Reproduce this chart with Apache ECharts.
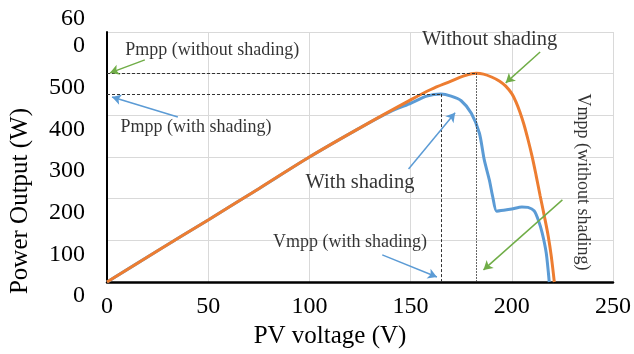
<!DOCTYPE html>
<html>
  <script src="https://cdn.jsdelivr.net/npm/echarts@6/dist/echarts.min.js"></script>
  <head>
    <meta charset="utf-8" />
    <title>PV power curve</title>
  </head>
  <body style="margin:0">
    <div id="main" style="width: 634px; height: 354px;"></div>
  </body>
  <script>
    // curve without shading
    var noShadeV = [0, 25, 50, 75, 100, 125, 150, 160, 170, 176, 182.5, 186, 190, 194, 197, 200, 202, 204, 206, 208, 210, 212, 214, 216, 218, 219.5, 221]
    var noShadeP = [0, 75, 149, 224, 300, 370, 437, 462, 482, 494, 501, 499, 492, 482, 470, 452, 433, 408, 378, 342, 302, 256, 207, 160, 110, 62, 0]
    // curve with shading
    var shadeV = [0, 25, 50, 75, 100, 125, 140, 150, 158, 165, 170, 175, 180, 184, 186.4, 188.9, 190.6, 192.5, 196, 200, 205, 208, 211, 213, 215, 217, 218.5]
    var shadeP = [0, 75, 149, 224, 300, 370, 409, 429, 446, 451, 446, 435, 405, 357, 293, 245, 204, 170, 172, 175, 180, 179, 171, 150, 118, 70, 0]
    var xTicks = [0, 50, 100, 150, 200, 250]
    var yTicks = [0, 100, 200, 300, 400, 500, 600]

    // maximum power points
    var mppNoShade = [182.5, 501]
    var mppShade = [165, 451]

    // annotation texts [text, V, P]
    var notes = [
      ['Pmpp (without shading)', 52, 557],
      ['Pmpp (with shading)', 44, 372],
      ['Without shading', 189, 581],
      ['With shading', 125, 238],
      ['Vmpp (with shading)', 120, 96],
      ['Vmpp (without shading)', 235, 240]
    ]
    // arrows [fromV, fromP, toV, toP, color]
    var arrows = [
      [18.7, 533, 1.5, 502, '#70AD47'],
      [35, 396, 2.5, 444, '#5B9BD5'],
      [214, 552, 197, 478, '#70AD47'],
      [149, 271, 172, 406, '#5B9BD5'],
      [136, 65, 163, 12, '#5B9BD5'],
      [225, 197, 186, 29, '#70AD47']
    ]

    function pairs(xs, ys) {
      var out = []
      for (var i = 0; i < xs.length; i++) out.push([xs[i], ys[i]])
      return out
    }

    var font = 'Liberation Serif'
    var yMax = yTicks[yTicks.length - 1]
    var chart = echarts.init(document.getElementById('main'))

    var guideLines = [
      [{ coord: [0, mppNoShade[1]] }, { coord: mppNoShade }],
      [{ coord: [0, mppShade[1]] }, { coord: mppShade }],
      [{ coord: mppShade }, { coord: [mppShade[0], 0] }],
      [{ coord: mppNoShade, lineStyle: { type: [1.5, 1.5] } }, { coord: [mppNoShade[0], 0] }]
    ]

    var arrowLines = arrows.map(function (a) {
      return [
        { coord: [a[0], a[1]], lineStyle: { color: a[4], width: 1.5, type: 'solid' } },
        { coord: [a[2], a[3]] }
      ]
    })

    var noteData = notes.map(function (n, i) {
      var big = n[0] === 'Without shading' || n[0] === 'With shading'
      return {
        value: [n[1], n[2]],
        name: n[0],
        label: {
          rotate: i === 5 ? -90 : 0,
          fontSize: big ? 20.5 : 18
        }
      }
    })

    var yLabelBase = { fontFamily: font, fontSize: 24, color: '#000', margin: 22, showMinLabel: true, showMaxLabel: true }

    var option = {
      animation: false,
      grid: { left: 107, right: 20, top: 32, bottom: 72 },
      xAxis: {
        type: 'value',
        min: 0,
        max: 250,
        interval: 50,
        name: 'PV voltage (V)',
        nameLocation: 'middle',
        nameGap: 42,
        nameTextStyle: { fontFamily: font, fontSize: 25, color: '#000', padding: [0, 60, 0, 0] },
        axisLine: { lineStyle: { color: '#000', width: 2.5 } },
        axisTick: { show: false },
        axisLabel: { fontFamily: font, fontSize: 24, color: '#000', margin: 13 },
        splitLine: { lineStyle: { color: '#d9d9d9' } }
      },
      yAxis: [
        {
          type: 'value',
          min: 0,
          max: yMax,
          interval: 100,
          name: 'Power Output (W)',
          nameLocation: 'middle',
          nameGap: 74,
          nameTextStyle: { fontFamily: font, fontSize: 25, color: '#000', padding: [0, 88, 0, 0] },
          axisLine: { show: true, lineStyle: { color: '#000', width: 2 } },
          axisTick: { show: false },
          // the wrapped top label, like the original
          axisLabel: Object.assign({}, yLabelBase, {
            lineHeight: 27,
            formatter: function (v) {
              return v === yMax ? '60\n0' : ''
            }
          }),
          splitLine: { lineStyle: { color: '#d9d9d9' } }
        },
        {
          type: 'value',
          position: 'left',
          min: 0,
          max: yMax,
          interval: 100,
          axisLine: { show: false },
          axisTick: { show: false },
          splitLine: { show: false },
          // other labels sit half a step under their gridline
          axisLabel: Object.assign({}, yLabelBase, {
            lineHeight: 28,
            verticalAlign: 'top',
            formatter: function (v) {
              return v === yMax ? '' : String(v)
            }
          })
        }
      ],
      series: [
        {
          type: 'line',
          data: pairs(noShadeV, noShadeP),
          showSymbol: false,
          smooth: 0.35,
          lineStyle: { color: '#ED7D31', width: 3 },
          z: 3
        },
        {
          type: 'line',
          data: pairs(shadeV, shadeP),
          showSymbol: false,
          smooth: 0.25,
          lineStyle: { color: '#5B9BD5', width: 3 },
          z: 2
        },
        {
          type: 'line',
          data: [],
          markLine: {
            silent: true,
            symbol: ['none', 'none'],
            label: { show: false },
            lineStyle: { color: '#333', width: 1, type: [3, 2] },
            data: guideLines
          }
        },
        {
          type: 'line',
          data: [],
          markLine: {
            silent: true,
            symbol: ['none', 'arrow'],
            symbolSize: [8, 9],
            label: { show: false },
            data: arrowLines
          },
          z: 4
        },
        {
          type: 'scatter',
          data: noteData,
          symbolSize: 1,
          itemStyle: { color: 'rgba(0,0,0,0)' },
          label: {
            show: true,
            position: 'inside',
            formatter: '{b}',
            fontFamily: font,
            color: '#000'
          },
          z: 5
        }
      ]
    }
    option && chart.setOption(option)
  </script>
</html>
